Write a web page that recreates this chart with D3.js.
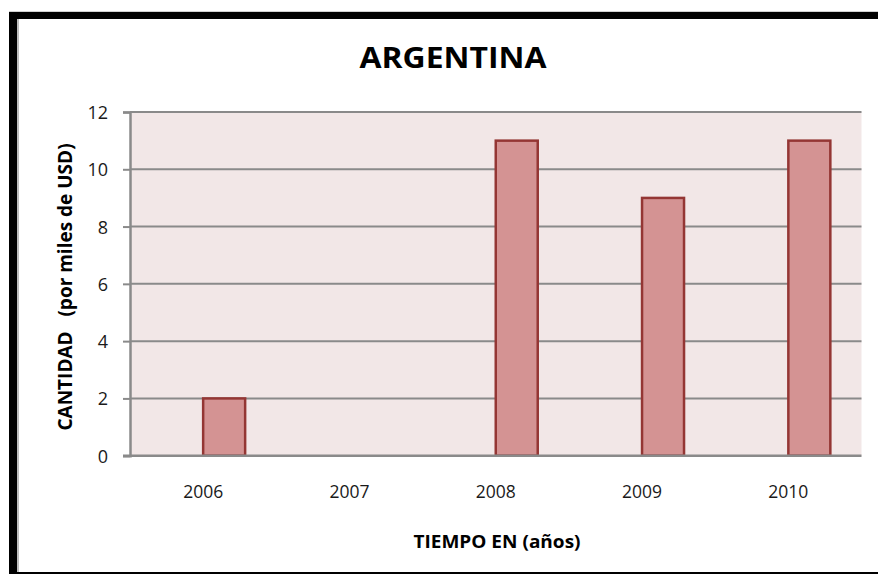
<!DOCTYPE html>
<html>
<head>
<meta charset="utf-8">
<script src="https://cdn.jsdelivr.net/npm/d3@7"></script>
<style>
  html, body { margin: 0; padding: 0; background: #ffffff; }
  svg { display: block; }
</style>
</head>
<body>
<svg id="chart" width="878" height="574"></svg>
<script>
// Amounts per year (thousands of USD)
const years = ["2006", "2007", "2008", "2009", "2010"];
const amounts = [2, 0, 11, 9, 11];
const yTicks = [0, 2, 4, 6, 8, 10, 12];
const title = "ARGENTINA";
const yTitle = "CANTIDAD\u00a0\u00a0\u00a0(por miles de USD)";
const xTitle = "TIEMPO EN (años)";

const W = 878, H = 574;
const plot = { left: 130, right: 861.5, top: 112, bottom: 455.7 };
const font = "'Open Sans', 'Noto Sans', sans-serif";

const svg = d3.select("#chart");

// frame: heavy black edge on top, left and bottom
svg.append("rect").attr("x", 0).attr("y", 0).attr("width", W).attr("height", H).attr("fill", "#fff");
svg.append("rect").attr("x", 9).attr("y", 11).attr("width", W - 9).attr("height", 1).attr("fill", "#d0d0d0");
svg.append("rect").attr("x", 9).attr("y", 12).attr("width", W - 9).attr("height", 7).attr("fill", "#000");
svg.append("rect").attr("x", 9).attr("y", 12).attr("width", 8).attr("height", H - 12).attr("fill", "#000");
svg.append("rect").attr("x", 17).attr("y", 19).attr("width", 2).attr("height", H - 19).attr("fill", "#bdbdbd");
svg.append("rect").attr("x", 9).attr("y", 572).attr("width", W - 9).attr("height", 2).attr("fill", "#000");

const x = d3.scaleBand().domain(years).range([plot.left, plot.right]).paddingInner(0).paddingOuter(0);
const y = d3.scaleLinear().domain([0, 12]).range([plot.bottom, plot.top]);

// plot background
svg.append("rect")
  .attr("x", plot.left).attr("y", plot.top)
  .attr("width", plot.right - plot.left).attr("height", plot.bottom - plot.top)
  .attr("fill", "#f2e7e7");

// gridlines
svg.append("g").selectAll("line").data(yTicks.filter(d => d > 0)).join("line")
  .attr("x1", plot.left).attr("x2", plot.right)
  .attr("y1", d => y(d)).attr("y2", d => y(d))
  .attr("stroke", "#8a8a8a").attr("stroke-width", 2);

// y axis
const yAxis = d3.axisLeft(y).tickValues(yTicks).tickSize(7).tickPadding(15);
const ya = svg.append("g").attr("transform", `translate(${plot.left},0)`).call(yAxis);
ya.select(".domain").attr("stroke", "#8a8a8a").attr("stroke-width", 2.5);
ya.selectAll(".tick line").attr("stroke", "#8a8a8a").attr("stroke-width", 2);
ya.selectAll(".tick text").attr("font-family", font).attr("font-size", 18).attr("fill", "#1a1a1a").attr("dy", "0.36em");

// bars: sit in the right half of each year slot
const barW = x.bandwidth() * 0.287;
svg.append("g").selectAll("rect").data(years.map((yr, i) => ({ yr, v: amounts[i] })).filter(d => d.v > 0)).join("rect")
  .attr("x", d => x(d.yr) + x.bandwidth() / 2)
  .attr("y", d => y(d.v))
  .attr("width", barW)
  .attr("height", d => y(0) - y(d.v))
  .attr("fill", "#d49393")
  .attr("stroke", "#943634")
  .attr("stroke-width", 2.5);

// x axis line
svg.append("line")
  .attr("x1", plot.left - 7).attr("x2", plot.right)
  .attr("y1", y(0)).attr("y2", y(0))
  .attr("stroke", "#8a8a8a").attr("stroke-width", 2.5);

// x tick labels
svg.append("g").selectAll("text").data(years).join("text")
  .attr("x", d => x(d) + x.bandwidth() / 2)
  .attr("y", 498)
  .attr("text-anchor", "middle")
  .attr("font-family", font).attr("font-size", 17.5).attr("fill", "#1a1a1a")
  .text(d => d);

// titles (slightly widened lettering)
svg.append("text")
  .attr("transform", "translate(453,68) scale(1.14,1)")
  .attr("text-anchor", "middle")
  .attr("font-family", font).attr("font-weight", "bold").attr("font-size", 28)
  .attr("fill", "#000")
  .text(title);

svg.append("text")
  .attr("transform", "translate(497,548) scale(1.12,1)")
  .attr("text-anchor", "middle")
  .attr("font-family", font).attr("font-weight", "bold").attr("font-size", 17)
  .attr("fill", "#000")
  .text(xTitle);

svg.append("text")
  .attr("transform", "translate(72,287) rotate(-90)")
  .attr("text-anchor", "middle")
  .attr("font-family", font).attr("font-weight", "bold").attr("font-size", 19)
  .attr("fill", "#000")
  .text(yTitle);
</script>
</body>
</html>
